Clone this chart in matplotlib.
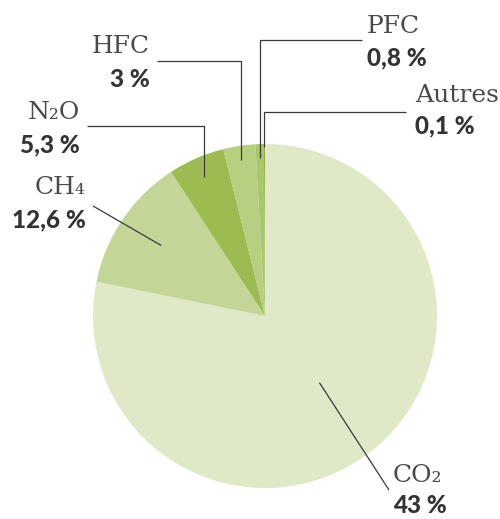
import numpy as np
import matplotlib
matplotlib.use("Agg")
import matplotlib.pyplot as plt

# ---- data ----
gases = ["CO₂", "CH₄", "N₂O", "HFC", "PFC", "Autres"]
shares = [78.2, 12.6, 5.3, 3.0, 0.8, 0.1]          # wedge sizes as drawn
pct_labels = ["43 %", "12,6 %", "5,3 %", "3 %", "0,8 %", "0,1 %"]
colors = ["#dfe9c8", "#c3d597", "#9dbb50", "#b6cf80", "#a9c66c", "#8fb040"]

W, H = 500, 519
fig = plt.figure(figsize=(W / 100, H / 100), dpi=100)
fig.patch.set_facecolor("white")

# pie axes (square in pixels)
ax = fig.add_axes([93 / W, (H - 488) / H, 344 / W, 344 / H])
wedges, _ = ax.pie(shares, colors=colors, startangle=90, counterclock=False,
                   radius=1.0, wedgeprops=dict(linewidth=0))
ax.set_xlim(-1, 1)
ax.set_ylim(-1, 1)
ax.set_aspect("equal")
ax.axis("off")

# overlay in pixel coordinates for leader lines and labels
ov = fig.add_axes([0, 0, 1, 1])
ov.set_xlim(0, W)
ov.set_ylim(H, 0)
ov.axis("off")
ov.patch.set_alpha(0)

fig.canvas.draw()

def anchor(i, r):
    w = wedges[i]
    mid = np.deg2rad((w.theta1 + w.theta2) / 2)
    p = ax.transData.transform((r * np.cos(mid), r * np.sin(mid)))
    return ov.transData.inverted().transform(p)

line_kw = dict(color="#3a3a3a", lw=0.9, solid_capstyle="butt")

# leader-line settings: (anchor radius, kind, elbow/start point)
leaders = {
    0: (0.50, "straight", (389, 490)),
    1: (0.73, "straight", (93, 206)),
    2: (0.88, "elbow", (87, 126)),
    3: (0.92, "elbow", (157, 61)),
    4: (0.92, "elbow", (362, 40)),
    5: (0.98, "elbow", (406, 112)),
}
for i, (r, kind, (x0, y0)) in leaders.items():
    ax_, ay_ = anchor(i, r)
    if kind == "straight":
        ov.plot([x0, ax_], [y0, ay_], **line_kw)
    else:
        ov.plot([x0, ax_, ax_], [y0, y0, ay_], **line_kw)

name_kw = dict(family="DejaVu Serif", fontsize=18, color="#4a4a4a", va="baseline")
pct_kw = dict(family=["Lato", "DejaVu Sans"], fontsize=17.5, fontweight="black",
              color="#333333", va="baseline")

# label placements (x, name baseline, pct baseline, align)
placements = {
    0: (393, 482, 513, "left"),
    1: (86, 194, 227, "right"),
    2: (80, 119, 152, "right"),
    3: (150, 53, 87, "right"),
    4: (367, 33, 65, "left"),
    5: (415, 102, 133, "left"),
}
for i, (x, yn, yp, ha) in placements.items():
    ov.text(x, yn, gases[i], ha=ha, **name_kw)
    ov.text(x, yp, pct_labels[i], ha=ha, **pct_kw)

fig.savefig("out.png", dpi=100, facecolor="white")
